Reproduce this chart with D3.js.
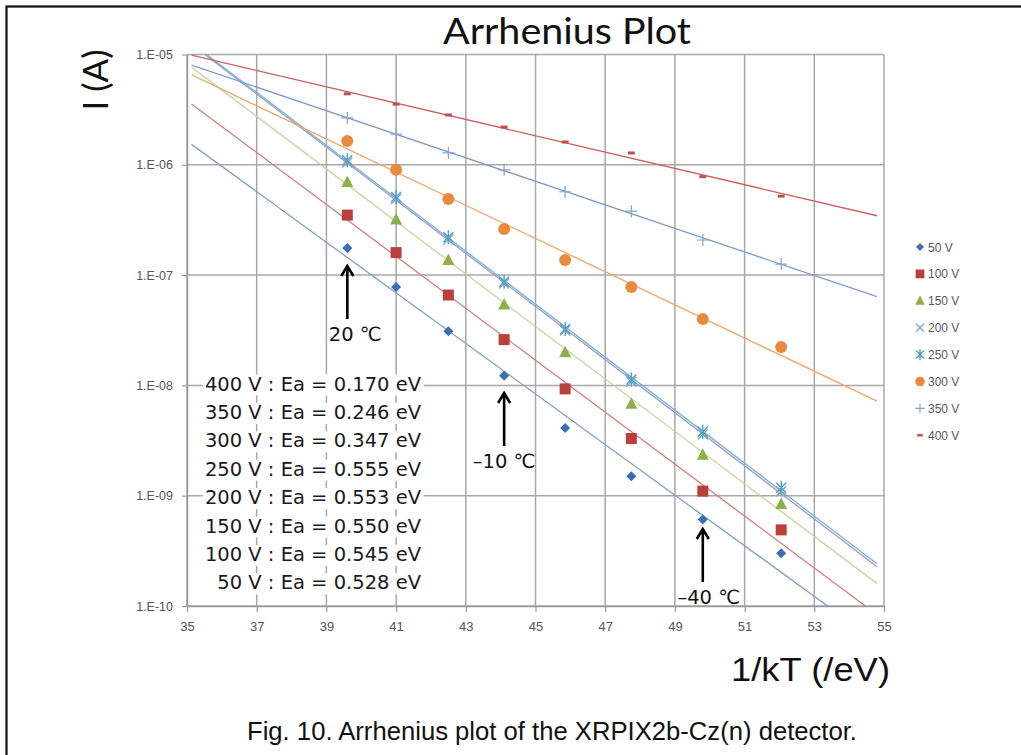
<!DOCTYPE html>
<html>
<head>
<meta charset="utf-8">
<script src="https://cdn.jsdelivr.net/npm/d3@7"></script>
<style>
  html, body { margin: 0; padding: 0; background: #ffffff; }
  svg { display: block; }
</style>
</head>
<body>
<div id="chart"></div>
<script>
// ---------------- data ----------------
const invKT = [39.6, 41.0, 42.5, 44.1, 45.85, 47.75, 49.8, 52.05];

const series50  = [1.76e-7, 7.8e-8, 3.1e-8, 1.22e-8, 4.1e-9, 1.5e-9, 6.1e-10, 3.0e-10];
const series100 = [3.5e-7, 1.6e-7, 6.6e-8, 2.6e-8, 9.3e-9, 3.3e-9, 1.1e-9, 4.9e-10];
const series150 = [7.0e-7, 3.2e-7, 1.37e-7, 5.4e-8, 2.0e-8, 6.8e-9, 2.35e-9, 8.4e-10];
const series200 = [1.05e-6, 4.9e-7, 2.1e-7, 8.4e-8, 3.15e-8, 1.08e-8, 3.6e-9, 1.1e-9];
const series250 = [1.1e-6, 5.1e-7, 2.2e-7, 8.7e-8, 3.25e-8, 1.13e-8, 3.8e-9, 1.18e-9];
const series300 = [1.64e-6, 9.0e-7, 4.9e-7, 2.62e-7, 1.37e-7, 7.8e-8, 4.0e-8, 2.23e-8];
const series350 = [2.66e-6, 1.9e-6, 1.28e-6, 9.0e-7, 5.7e-7, 3.8e-7, 2.08e-7, 1.26e-7];
const series400 = [4.4e-6, 3.55e-6, 2.83e-6, 2.2e-6, 1.61e-6, 1.28e-6, 7.8e-7, 5.2e-7];

const seriesNames = ["50 V", "100 V", "150 V", "200 V", "250 V", "300 V", "350 V", "400 V"];
const seriesValues = [series50, series100, series150, series200, series250, series300, series350, series400];

const xTicks = [35, 37, 39, 41, 43, 45, 47, 49, 51, 53, 55];
const yTicks = [1e-10, 1e-9, 1e-8, 1e-7, 1e-6, 1e-5];
const yTickLabels = ["1.E-10", "1.E-09", "1.E-08", "1.E-07", "1.E-06", "1.E-05"];

const eaLabels = [
  "400 V : Ea = 0.170 eV",
  "350 V : Ea = 0.246 eV",
  "300 V : Ea = 0.347 eV",
  "250 V : Ea = 0.555 eV",
  "200 V : Ea = 0.553 eV",
  "150 V : Ea = 0.550 eV",
  "100 V : Ea = 0.545 eV",
  "50 V : Ea = 0.528 eV"
];

// temperature arrows: position (1/kT) and label
const arrowX = [39.6, 44.1, 49.8];
const arrowLabels = ["20 \u2103", "\u201310 \u2103", "\u201340 \u2103"];

const titleText = "Arrhenius Plot";
const yTitle = "I (A)";
const xTitle = "1/kT (/eV)";
const captionText = "Fig. 10. Arrhenius plot of the XRPIX2b-Cz(n) detector.";

// ---------------- styles ----------------
const markerColors = ["#3d6db3", "#b9403d", "#8db04c", "#8fa0c4", "#4aa3c4", "#e98a3c", "#86a2cf", "#c0504d"];
const lineColors   = ["#7f9fcf", "#d27d7a", "#c2d69a", "#9a9acb", "#7bb3cf", "#f2a463", "#7c9bcc", "#c9605d"];
const shapes = ["diamond", "square", "triangle", "x", "asterisk", "circle", "plus", "dash"];

const W = 1021, H = 755;
const svg = d3.select("#chart").append("svg")
  .attr("width", W).attr("height", H)
  .style("font-family", "'DejaVu Sans', sans-serif");

svg.append("rect").attr("width", W).attr("height", H).attr("fill", "#ffffff");

// outer frame (runs off right/bottom edges)
svg.append("rect")
  .attr("x", 6.5).attr("y", 6.5).attr("width", W + 20).attr("height", H + 20)
  .attr("fill", "none").attr("stroke", "#111").attr("stroke-width", 2.2);

const plot = { left: 187, right: 884, top: 54.5, bottom: 606 };

const x = d3.scaleLinear().domain([35, 55]).range([plot.left, plot.right]);
const y = d3.scaleLog().domain([1e-10, 1e-5]).range([plot.bottom, plot.top]);

// ---------------- gridlines ----------------
const gridColor = "#a8a8a8";
svg.append("g").selectAll("line").data(xTicks).join("line")
  .attr("x1", d => x(d)).attr("x2", d => x(d))
  .attr("y1", plot.top).attr("y2", plot.bottom)
  .attr("stroke", gridColor).attr("stroke-width", 1.5);
svg.append("g").selectAll("line").data(yTicks).join("line")
  .attr("x1", plot.left).attr("x2", plot.right)
  .attr("y1", d => y(d)).attr("y2", d => y(d))
  .attr("stroke", gridColor).attr("stroke-width", 1.5);

// ---------------- axes ----------------
const tickFont = "'Liberation Sans Narrow', 'Liberation Sans', sans-serif";
const xAxis = d3.axisBottom(x).tickValues(xTicks).tickFormat(d3.format("d"))
  .tickSizeInner(6).tickSizeOuter(0).tickPadding(10);
const gx = svg.append("g").attr("transform", `translate(0,${plot.bottom})`).call(xAxis);
gx.select(".domain").attr("stroke", "#9a9a9a").attr("stroke-width", 1.5);
gx.selectAll(".tick line").attr("stroke", "#9a9a9a").attr("stroke-width", 1.2);
gx.selectAll("text").attr("fill", "#555").attr("font-size", 13).attr("font-family", tickFont);

const yAxis = d3.axisLeft(y).tickValues(yTicks)
  .tickFormat(d => yTickLabels[yTicks.indexOf(d)])
  .tickSizeInner(5).tickSizeOuter(0).tickPadding(9);
const gy = svg.append("g").attr("transform", `translate(${plot.left},0)`).call(yAxis);
gy.select(".domain").attr("stroke", "#9a9a9a").attr("stroke-width", 1.5);
gy.selectAll(".tick line").attr("stroke", "#9a9a9a").attr("stroke-width", 1.2);
gy.selectAll("text").attr("fill", "#555").attr("font-size", 12.5).attr("font-family", tickFont);

// ---------------- trend lines (least-squares fit of log10 I vs 1/kT) ----------------
svg.append("defs").append("clipPath").attr("id", "plotclip")
  .append("rect").attr("x", plot.left).attr("y", plot.top)
  .attr("width", plot.right - plot.left).attr("height", plot.bottom - plot.top);

function fit(vals) {
  const xs = invKT, ys = vals.map(v => Math.log10(v));
  const mx = d3.mean(xs), my = d3.mean(ys);
  let sxy = 0, sxx = 0;
  xs.forEach((xv, i) => { sxy += (xv - mx) * (ys[i] - my); sxx += (xv - mx) ** 2; });
  const b = sxy / sxx, a = my - b * mx;
  return xv => Math.pow(10, a + b * xv);
}
const trendRange = [35.13, 54.8];
const lineGen = d3.line().x(d => x(d[0])).y(d => y(d[1]));
const gTrend = svg.append("g").attr("clip-path", "url(#plotclip)");
seriesValues.forEach((vals, i) => {
  const f = fit(vals);
  const pts = trendRange.map(t => [t, f(t)]);
  gTrend.append("path").attr("d", lineGen(pts))
    .attr("fill", "none").attr("stroke", lineColors[i]).attr("stroke-width", 1.3);
});

// ---------------- markers ----------------
function drawMarker(g, shape, cx, cy, color, scale = 1) {
  const s = scale;
  switch (shape) {
    case "diamond":
      g.append("path").attr("d", `M${cx},${cy - 5 * s}L${cx + 5 * s},${cy}L${cx},${cy + 5 * s}L${cx - 5 * s},${cy}Z`)
        .attr("fill", color); break;
    case "square":
      g.append("rect").attr("x", cx - 5.5 * s).attr("y", cy - 5.5 * s)
        .attr("width", 11 * s).attr("height", 11 * s).attr("fill", color); break;
    case "triangle":
      g.append("path").attr("d", `M${cx},${cy - 6.5 * s}L${cx + 6 * s},${cy + 5 * s}L${cx - 6 * s},${cy + 5 * s}Z`)
        .attr("fill", color); break;
    case "circle":
      g.append("circle").attr("cx", cx).attr("cy", cy).attr("r", 6 * s).attr("fill", color); break;
    case "x":
      g.append("path").attr("d", `M${cx - 5 * s},${cy - 5 * s}L${cx + 5 * s},${cy + 5 * s}M${cx - 5 * s},${cy + 5 * s}L${cx + 5 * s},${cy - 5 * s}`)
        .attr("stroke", color).attr("stroke-width", 1.4).attr("fill", "none"); break;
    case "asterisk":
      g.append("path").attr("d", `M${cx - 5 * s},${cy - 5 * s}L${cx + 5 * s},${cy + 5 * s}M${cx - 5 * s},${cy + 5 * s}L${cx + 5 * s},${cy - 5 * s}M${cx},${cy - 7 * s}L${cx},${cy + 7 * s}`)
        .attr("stroke", color).attr("stroke-width", 1.4).attr("fill", "none"); break;
    case "plus":
      g.append("path").attr("d", `M${cx - 6 * s},${cy}L${cx + 6 * s},${cy}M${cx},${cy - 6 * s}L${cx},${cy + 6 * s}`)
        .attr("stroke", color).attr("stroke-width", 1.2).attr("fill", "none"); break;
    case "dash":
      g.append("rect").attr("x", cx - 3.5 * s).attr("y", cy - 1.5 * s)
        .attr("width", 7 * s).attr("height", 3 * s).attr("fill", color); break;
  }
}
const gMarks = svg.append("g");
seriesValues.forEach((vals, i) => {
  vals.forEach((v, j) => drawMarker(gMarks, shapes[i], x(invKT[j]), y(v), markerColors[i]));
});

// ---------------- legend ----------------
const gLeg = svg.append("g");
const legX = 920, legY0 = 247, legStep = 26.9;
seriesNames.forEach((name, i) => {
  const cy = legY0 + i * legStep;
  drawMarker(gLeg, shapes[i], legX, cy, markerColors[i], 0.8);
  gLeg.append("text").attr("x", legX + 8).attr("y", cy + 4.5)
    .attr("font-size", 12).attr("fill", "#595959").attr("font-family", tickFont)
    .text(name);
});

// ---------------- Ea annotation block ----------------
const gEa = svg.append("g");
const eaRight = 421, eaY0 = 390.5, eaStep = 28.4;
eaLabels.forEach((t, i) => {
  const by = eaY0 + i * eaStep;
  const txt = gEa.append("text").attr("x", eaRight).attr("y", by)
    .attr("text-anchor", "end").attr("font-size", 19.5).attr("fill", "#1a1a1a").text(t);
  const bb = txt.node().getBBox();
  gEa.insert("rect", "text").attr("x", bb.x - 2).attr("y", by - 16)
    .attr("width", bb.width + 4).attr("height", 21).attr("fill", "#ffffff");
});

// ---------------- temperature arrows ----------------
const gArr = svg.append("g");
const arrowTips = [265, 392, 528];
const arrowLen = 54;
const labelDx = [8, 0, 6];
arrowX.forEach((t, i) => {
  const ax = x(t), top = arrowTips[i], bottom = top + arrowLen;
  gArr.append("path")
    .attr("d", `M${ax},${bottom}V${top + 1}M${ax - 6},${top + 11}L${ax},${top + 1}L${ax + 6},${top + 11}`)
    .attr("stroke", "#000").attr("stroke-width", 2.6).attr("fill", "none");
  gArr.append("text").attr("x", ax + labelDx[i]).attr("y", bottom + 22)
    .attr("text-anchor", "middle").attr("font-size", 19.5).attr("fill", "#111")
    .text(arrowLabels[i]);
});

// ---------------- titles ----------------
svg.append("text").attr("x", 567).attr("y", 44).attr("text-anchor", "middle")
  .attr("font-family", "Lato, 'Open Sans', sans-serif").attr("font-size", 37).attr("fill", "#111")
  .attr("textLength", 248).attr("lengthAdjust", "spacingAndGlyphs")
  .text(titleText);

svg.append("text").attr("transform", "translate(108,80) rotate(-90)")
  .attr("text-anchor", "middle").attr("font-family", "Lato, 'Open Sans', sans-serif")
  .attr("font-size", 35).attr("fill", "#111").text(yTitle);

svg.append("text").attr("x", 890).attr("y", 681).attr("text-anchor", "end")
  .attr("font-family", tickFont)
  .attr("font-size", 34).attr("fill", "#111")
  .attr("textLength", 159).attr("lengthAdjust", "spacingAndGlyphs")
  .text(xTitle);

svg.append("text").attr("x", 552).attr("y", 740).attr("text-anchor", "middle")
  .attr("font-family", tickFont)
  .attr("font-size", 25).attr("fill", "#111")
  .attr("textLength", 610).attr("lengthAdjust", "spacingAndGlyphs")
  .text(captionText);
</script>
</body>
</html>
